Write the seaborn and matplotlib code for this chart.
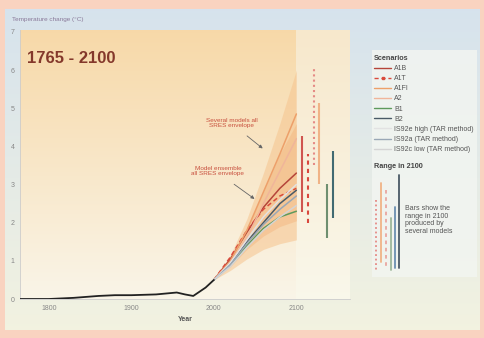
import numpy as np
import pandas as pd
import matplotlib
matplotlib.use("Agg")
import matplotlib.pyplot as plt
import seaborn as sns
from matplotlib.lines import Line2D
from matplotlib.patches import Rectangle

sns.set_theme(style="white")
plt.rcParams["font.family"] = ["Liberation Sans", "DejaVu Sans"]

# Observed / reconstructed global temperature change
hist_years = [1765, 1800, 1830, 1860, 1880, 1900, 1930, 1955, 1965, 1975, 1990, 2000]
hist_vals = [0.0, 0.0, 0.03, 0.08, 0.10, 0.10, 0.12, 0.17, 0.12, 0.08, 0.30, 0.50]

# Scenario projections
proj_years = [2000, 2020, 2040, 2060, 2080, 2100]
a1b = [0.5, 1.05, 1.75, 2.40, 2.90, 3.30]
a1t = [0.5, 1.10, 1.80, 2.35, 2.70, 2.90]
a1fi = [0.5, 1.00, 1.80, 2.80, 3.80, 4.85]
a2 = [0.5, 0.95, 1.60, 2.50, 3.35, 4.20]
b1 = [0.5, 0.90, 1.40, 1.85, 2.15, 2.30]
b2 = [0.5, 0.90, 1.50, 2.00, 2.50, 2.85]
is92_high = [0.5, 0.95, 1.55, 2.15, 2.60, 3.00]
is92a = [0.5, 0.90, 1.45, 1.95, 2.35, 2.70]
is92_low = [0.5, 0.85, 1.35, 1.80, 2.15, 2.45]

# Envelopes
env_several_hi = [0.5, 1.15, 2.10, 3.30, 4.60, 6.00]
env_several_lo = [0.5, 0.75, 1.05, 1.30, 1.45, 1.55]
env_ensemble_hi = [0.5, 1.05, 1.85, 2.80, 3.80, 4.60]
env_ensemble_lo = [0.5, 0.85, 1.30, 1.65, 1.90, 2.05]

# Range in 2100 by scenario (low, high)
range_labels = ["A1B", "A1T", "A1FI", "A2", "B1", "B2"]
range_low = [2.27, 2.00, 3.50, 3.02, 1.61, 2.11]
range_high = [4.27, 3.80, 6.04, 5.13, 3.02, 3.88]
range_pos = [2107, 2114, 2121, 2128, 2137, 2144]

scen_labels = ["A1B", "A1T", "A1FI", "A2", "B1", "B2",
               "IS92e high (TAR method)", "IS92a (TAR method)", "IS92c low (TAR method)"]
scen_colors = ["#b5453a", "#d94a3c", "#eda06a", "#f0b59a", "#5e9a5c", "#4a5a66",
               "#e2e2e2", "#9aa8b6", "#d4d4d4"]

W, H = 484, 338
fig = plt.figure(figsize=(W / 100, H / 100), dpi=100)
fig.patch.set_facecolor("#f9d3c0")

# page background
bg = fig.add_axes([5 / W, 1 - 330 / H, 475 / W, 321 / H], zorder=0)
g = np.linspace(0, 1, 256)[:, None]
top = np.array([0.84, 0.89, 0.93])
bot = np.array([0.95, 0.95, 0.88])
img = top[None, None, :] * (1 - g[..., None]) + bot[None, None, :] * g[..., None]
img = np.repeat(img, 2, axis=1)
bg.imshow(img, aspect="auto", extent=[0, 1, 0, 1])
bg.set_axis_off()

# side panel behind the legend
fig.patches.append(Rectangle((372 / W, 1 - 277 / H), 105 / W, 227 / H, transform=fig.transFigure,
                             facecolor="#f2f5f1", edgecolor="none", alpha=0.85, zorder=0.5))

ax = fig.add_axes([20 / W, 1 - 299 / H, 330 / W, 269 / H], zorder=1)
ax.patch.set_alpha(0)

# plot backgrounds
pg = np.linspace(0, 1, 256)[:, None]
otop = np.array([0.97, 0.85, 0.66])
obot = np.array([0.98, 0.96, 0.91])
oimg = otop[None, None, :] * (1 - pg[..., None]) + obot[None, None, :] * pg[..., None]
oimg = np.repeat(oimg, 2, axis=1)
ax.imshow(oimg, aspect="auto", extent=[1765, 2100, 0, 7.05], zorder=0)
ltop = np.array([0.97, 0.91, 0.80])
lbot = np.array([0.98, 0.97, 0.92])
limg = ltop[None, None, :] * (1 - pg[..., None]) + lbot[None, None, :] * pg[..., None]
limg = np.repeat(limg, 2, axis=1)
ax.imshow(limg, aspect="auto", extent=[2100, 2165, 0, 7.05], zorder=0)

ax.fill_between(proj_years, env_several_lo, env_several_hi, color="#f6c48e", alpha=0.55, lw=0, zorder=1)
ax.fill_between(proj_years, env_ensemble_lo, env_ensemble_hi, color="#f3b47c", alpha=0.45, lw=0, zorder=1)

hist_df = pd.DataFrame({"Year": hist_years, "T": hist_vals})
sns.lineplot(data=hist_df, x="Year", y="T", ax=ax, color="#222222", lw=1.3, zorder=4)

series = [a1b, a1t, a1fi, a2, b1, b2, is92_high, is92a, is92_low]
for lab, col, vals in zip(scen_labels, scen_colors, series):
    df = pd.DataFrame({"Year": proj_years, "T": vals})
    if lab == "A1T":
        sns.lineplot(data=df, x="Year", y="T", ax=ax, color=col, lw=1.1,
                     linestyle=(0, (3, 2)), zorder=3)
    else:
        sns.lineplot(data=df, x="Year", y="T", ax=ax, color=col, lw=1.1, zorder=3)

# range bars in 2100
bar_cols = ["#d0554f", "#d9473d", "#e58a85", "#f0b386", "#6f8f70", "#416a72"]
bar_styles = ["-", (0, (2, 2)), (0, (1, 1.5)), "-", "-", "-"]
for pos, lo, hi, c, ls in zip(range_pos, range_low, range_high, bar_cols, bar_styles):
    ax.vlines(pos, lo, hi, colors=c, linestyles=ls, lw=1.5, zorder=3)

ax.text(2021.8, 4.6, "Several models all\nSRES envelope", fontsize=4.6, color="#c8503e",
        ha="center", va="center", linespacing=1.0, zorder=5)
ax.annotate("", xy=(2061.8, 3.9), xytext=(2037.6, 4.32),
            arrowprops=dict(arrowstyle="-|>", color="#666666", lw=0.6, mutation_scale=5), zorder=5)
ax.text(2004.8, 3.36, "Model ensemble\nall SRES envelope", fontsize=4.6, color="#c8503e",
        ha="center", va="center", linespacing=1.0, zorder=5)
ax.annotate("", xy=(2052, 2.58), xytext=(2021.8, 3.05),
            arrowprops=dict(arrowstyle="-|>", color="#666666", lw=0.6, mutation_scale=5), zorder=5)

ax.text(1773, 6.3, "1765 - 2100", fontsize=12, fontweight="bold", color="#84382b",
        family=["Liberation Sans Narrow", "Liberation Sans", "DejaVu Sans"], va="center", zorder=5)

ax.set_xlim(1765, 2165)
ax.set_ylim(0, 7.05)
ax.set_xticks([1800, 1900, 2000, 2100])
ax.set_yticks(range(0, 8))
ax.tick_params(axis="both", labelsize=5, colors="#888888", length=0, pad=4)
ax.set_xlabel("Year", fontsize=5, fontweight="bold", color="#555555", labelpad=3)
ax.set_ylabel("")
for s in ["top", "right"]:
    ax.spines[s].set_visible(False)
for s in ["left", "bottom"]:
    ax.spines[s].set_color("#cccccc")
    ax.spines[s].set_linewidth(0.6)

fig.text(12 / W, 1 - 20 / H, "Temperature change (\u00b0C)", fontsize=4.6, color="#8a7a9a",
         va="center", ha="left")

handles = []
for lab, col in zip(scen_labels, scen_colors):
    if lab == "A1T":
        h = Line2D([], [], color=col, lw=1.0, linestyle=(0, (3, 2)), marker="s", markersize=1.8,
                   markevery=[1])
    else:
        h = Line2D([], [], color=col, lw=1.0)
    handles.append(h)
leg = ax.legend(handles, scen_labels, loc="upper left", bbox_to_anchor=(374 / W, 1 - 55 / H),
                bbox_transform=fig.transFigure, fontsize=5, title="Scenarios",
                title_fontproperties={"size": 5.2, "weight": "bold"}, frameon=False,
                labelspacing=0.45, handlelength=2.5, handletextpad=0.4, borderpad=0,
                borderaxespad=0, alignment="left")
for t in leg.get_texts():
    t.set_color("#555555")
leg.get_title().set_color("#444444")

fig.text(374 / W, 1 - 167 / H, "Range in 2100", fontsize=5.2, fontweight="bold", color="#444444",
         va="center")
fig.text(405 / W, 1 - 220 / H, "Bars show the\nrange in 2100\nproduced by\nseveral models",
         fontsize=5, color="#555555", va="center", linespacing=1.15)

# small bar key
key_x = [376, 381, 386, 391, 395, 399]
key_top = [200, 183, 190, 218, 207, 175]
key_bot = [270, 262, 268, 270, 268, 268]
key_cols = ["#e58a85", "#f0b386", "#e9a6a0", "#9cb79a", "#6a8fb0", "#4a5a66"]
key_styles = [(0, (1, 1.5)), "-", (0, (2, 2)), "-", "-", "-"]
for kx, kt, kb, c, ls in zip(key_x, key_top, key_bot, key_cols, key_styles):
    fig.add_artist(Line2D([kx / W, kx / W], [1 - kt / H, 1 - kb / H], transform=fig.transFigure,
                          color=c, lw=1.3, linestyle=ls, zorder=3))

fig.savefig("out.png", dpi=100, facecolor=fig.get_facecolor())
